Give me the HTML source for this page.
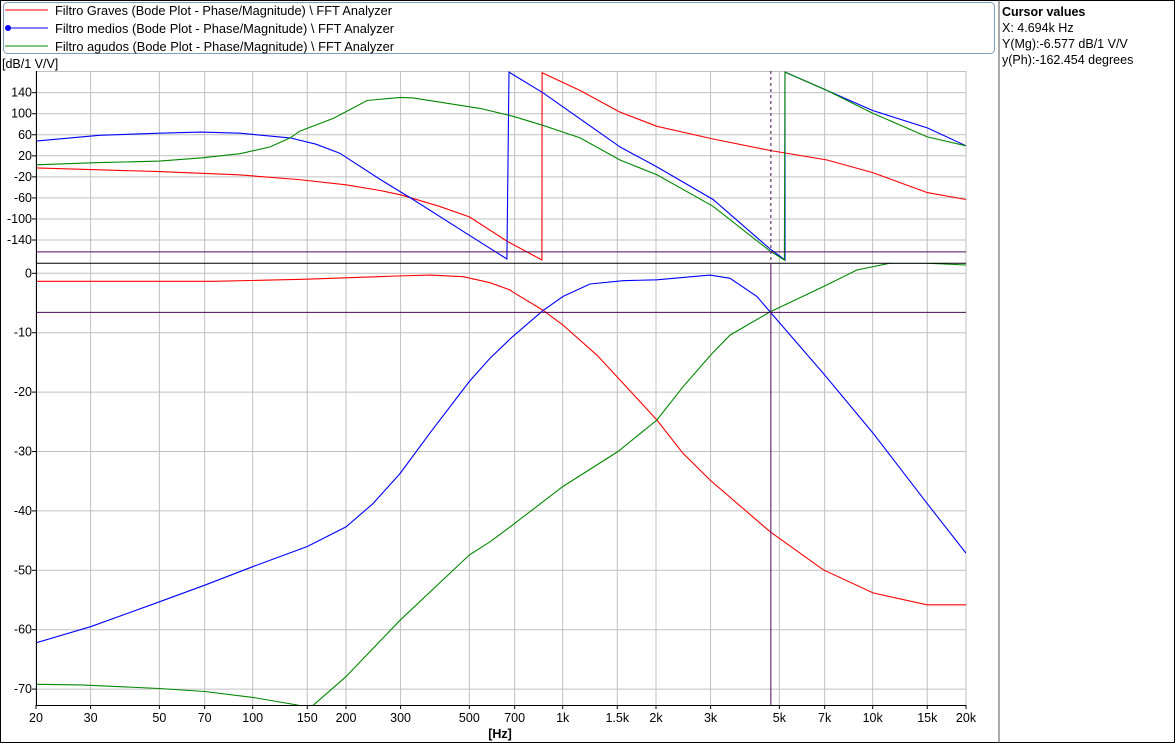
<!DOCTYPE html>
<html><head><meta charset="utf-8"><style>
html,body{margin:0;padding:0;background:#fff;}
svg{display:block;font-family:"Liberation Sans",sans-serif;font-size:12.5px;}
</style></head><body>
<svg id="chart" width="1175" height="743" viewBox="0 0 1175 743">
<rect x="0.5" y="0.5" width="1174" height="742" fill="#fff" stroke="#000"/>
<g>
<rect x="3.5" y="2.5" width="991" height="51" rx="4" fill="#fff" stroke="#7f9db9"/>
<g><line x1="5" y1="10" x2="48" y2="10" stroke="#f00"/><text x="55" y="15" textLength="337" lengthAdjust="spacingAndGlyphs">Filtro Graves (Bode Plot - Phase/Magnitude) \ FFT Analyzer</text></g>
<g><line x1="5" y1="28" x2="48" y2="28" stroke="#00f"/><circle cx="8" cy="28" r="3" fill="#00f"/><text x="55" y="33" textLength="339" lengthAdjust="spacingAndGlyphs">Filtro medios (Bode Plot - Phase/Magnitude) \ FFT Analyzer</text></g>
<g><line x1="5" y1="46" x2="48" y2="46" stroke="#080"/><text x="55" y="51" textLength="339" lengthAdjust="spacingAndGlyphs">Filtro agudos (Bode Plot - Phase/Magnitude) \ FFT Analyzer</text></g>
</g>
<line x1="999" y1="0" x2="999" y2="743" stroke="#555"/>
<g>
<text x="1002" y="16" font-weight="bold">Cursor values</text>
<text x="1002" y="32">X: 4.694k Hz</text>
<text x="1002" y="48">Y(Mg):-6.577 dB/1 V/V</text>
<text x="1002" y="64">y(Ph):-162.454 degrees</text>
</g>
<text x="2" y="68">[dB/1 V/V]</text>
<text x="500" y="738" text-anchor="middle" font-weight="bold">[Hz]</text>
<g id="grid"></g>
<g id="series"></g>
<g id="cursor"></g>
<g id="axes"></g>
</svg>
<script>
const xTicks = [20,30,50,70,100,150,200,300,500,700,1000,1500,2000,3000,5000,7000,10000,15000,20000];
const xTickLabels = ["20","30","50","70","100","150","200","300","500","700","1k","1.5k","2k","3k","5k","7k","10k","15k","20k"];
const phaseTicks = [140,100,60,20,-20,-60,-100,-140];
const magTicks = [0,-10,-20,-30,-40,-50,-60,-70];

const gravesPhF = [20,50,90,140,200,258,300,400,500,661,857,858,1138,1531,2014,3056,4667,7130,10000,15000,20000];
const gravesPh  = [-3,-10,-16,-25,-35,-46,-54,-76,-96,-142,-178,178,144,103,76,52,30,12,-12,-50,-63];
const mediosPhF = [20,32,50,68,91,132,160,191,258,299,321,500,661,671,863,1531,2014,3056,4667,5212,5213,7130,10000,15000,20000];
const mediosPh  = [48,59,63,65,63,54,42,25,-25,-48,-59,-131,-176,179,140,37,-1,-63,-157,-178,179,144,106,73,39];
const agudosPhF = [20,32,50,68,91,114,132,142,182,234,300,329,541,692,863,1138,1531,2014,3056,4667,5190,5212,7130,10000,15000,20000];
const agudosPh  = [3,7,10,16,24,37,54,67,91,125,131,130,110,95,78,54,12,-16,-76,-161,-178,179,144,101,56,39];

const gravesMgF = [20,75,149,291,373,478,583,676,688,863,1002,1291,1497,2014,2444,2987,4667,6917,10025,14960,20000];
const gravesMg  = [-1.35,-1.35,-1.0,-0.45,-0.3,-0.57,-1.58,-2.8,-3.1,-6.2,-8.7,-13.8,-17.4,-24.7,-30.3,-34.8,-43.5,-49.9,-53.8,-55.8,-55.8];
const mediosMgF = [20,30,50,70,100,150,200,244,299,373,500,583,688,863,1002,1225,1567,2014,2987,3465,4234,4667,6917,10025,14960,20000];
const mediosMg  = [-62.2,-59.5,-55.3,-52.5,-49.4,-46.0,-42.7,-38.8,-33.7,-26.9,-18.2,-14.3,-10.7,-6.3,-3.9,-1.8,-1.25,-1.1,-0.3,-0.85,-3.9,-6.5,-16.8,-26.9,-38.7,-47.1];
const agudosMgF = [20,28,50,70,100,140,153,157,200,299,500,583,688,1002,1508,2014,2444,3034,3465,4667,6917,8897,11370,14960,20000];
const agudosMg  = [-69.2,-69.3,-69.9,-70.4,-71.4,-72.7,-74,-72.7,-67.9,-58.4,-47.4,-45.2,-42.4,-35.9,-30.0,-24.7,-19.1,-13.5,-10.4,-6.5,-2.25,0.55,1.7,1.7,1.4];

const cursorFreq = 4694, cursorMag = -6.577, cursorPhase = -162.454;

const NS = "http://www.w3.org/2000/svg";
const L = 36, R = 966, PT = 71.6, PB = 263.3, MB = 705;
const x = f => L + (R - L) * Math.log10(f / 20) / 3;
const yPh = p => 71.6 + (180 - p) * 0.5263;
const yMg = d => 273.3 - d * 5.94;
function mk(tag, attrs, parent){ const e = document.createElementNS(NS, tag); for (const k in attrs) e.setAttribute(k, attrs[k]); parent.appendChild(e); return e; }
const grid = document.getElementById('grid'), series = document.getElementById('series'), cur = document.getElementById('cursor'), axes = document.getElementById('axes');

xTicks.forEach((f,i) => {
  const l = mk('line', {x1:x(f), y1:71, x2:x(f), y2:MB, stroke:'#c0c0c0'}, grid);
  
  
  const t = mk('text', {x:x(f), y:722, 'text-anchor':'middle'}, axes);
  t.textContent = xTickLabels[i];
  
  
  const tk = mk('line', {x1:x(f), y1:MB, x2:x(f), y2:MB+4, stroke:'#000'}, axes);
  
  
});
mk('line', {x1:L, y1:71.5, x2:R, y2:71.5, stroke:'#c0c0c0'}, grid);
phaseTicks.forEach(p => {
  const l = mk('line', {x1:L, y1:yPh(p), x2:R, y2:yPh(p), stroke:'#c0c0c0'}, grid);
  
  
  const t = mk('text', {x:32, y:yPh(p)+4, 'text-anchor':'end'}, axes);
  t.textContent = p;
  
  
  mk('line', {x1:32, y1:yPh(p), x2:L, y2:yPh(p), stroke:'#000'}, axes);
});
magTicks.forEach(d => {
  const l = mk('line', {x1:L, y1:yMg(d), x2:R, y2:yMg(d), stroke:'#c0c0c0'}, grid);
  
  
  const t = mk('text', {x:32, y:yMg(d)+4, 'text-anchor':'end'}, axes);
  t.textContent = d;
  
  
  mk('line', {x1:32, y1:yMg(d), x2:L, y2:yMg(d), stroke:'#000'}, axes);
});
mk('line', {x1:L+0.5, y1:71, x2:L+0.5, y2:MB, stroke:'#000'}, axes);
mk('line', {x1:L, y1:MB+0.5, x2:R, y2:MB+0.5, stroke:'#000'}, axes);

const defs = mk('defs', {}, document.getElementById('chart'));
const c1 = mk('clipPath', {id:'clipPh'}, defs); mk('rect', {x:L, y:71, width:R-L, height:PB-71}, c1);
const c2 = mk('clipPath', {id:'clipMg'}, defs); mk('rect', {x:L, y:PB, width:R-L, height:MB-PB}, c2);

function line(fs, vs, yf, color, clip, name){
  const d = fs.map((f,i) => (i ? 'L' : 'M') + x(f).toFixed(1) + ',' + yf(vs[i]).toFixed(1)).join('');
  const p = mk('path', {d:d, fill:'none', stroke:color, 'stroke-width':1.1, 'clip-path':'url(#'+clip+')'}, series);
  
  
}
line(gravesPhF, gravesPh, yPh, '#f00', 'clipPh', 'graves-phase-line');
line(mediosPhF, mediosPh, yPh, '#00f', 'clipPh', 'medios-phase-line');
line(agudosPhF, agudosPh, yPh, '#080', 'clipPh', 'agudos-phase-line');
line(gravesMgF, gravesMg, yMg, '#f00', 'clipMg', 'graves-magnitude-line');
line(mediosMgF, mediosMg, yMg, '#00f', 'clipMg', 'medios-magnitude-line');
line(agudosMgF, agudosMg, yMg, '#080', 'clipMg', 'agudos-magnitude-line');

const cc = '#4b0a5a';
const cx = x(cursorFreq);
let e;
e = mk('line', {x1:L, y1:yPh(cursorPhase), x2:R, y2:yPh(cursorPhase), stroke:cc}, cur);


e = mk('line', {x1:L, y1:PB, x2:R, y2:PB, stroke:'#000'}, cur);


e = mk('line', {x1:L, y1:yMg(cursorMag), x2:R, y2:yMg(cursorMag), stroke:cc}, cur);


e = mk('line', {x1:cx, y1:71, x2:cx, y2:PB, stroke:cc, 'stroke-dasharray':'3,3'}, cur);


e = mk('line', {x1:cx, y1:PB, x2:cx, y2:MB, stroke:cc}, cur);


</script>
</body></html>
